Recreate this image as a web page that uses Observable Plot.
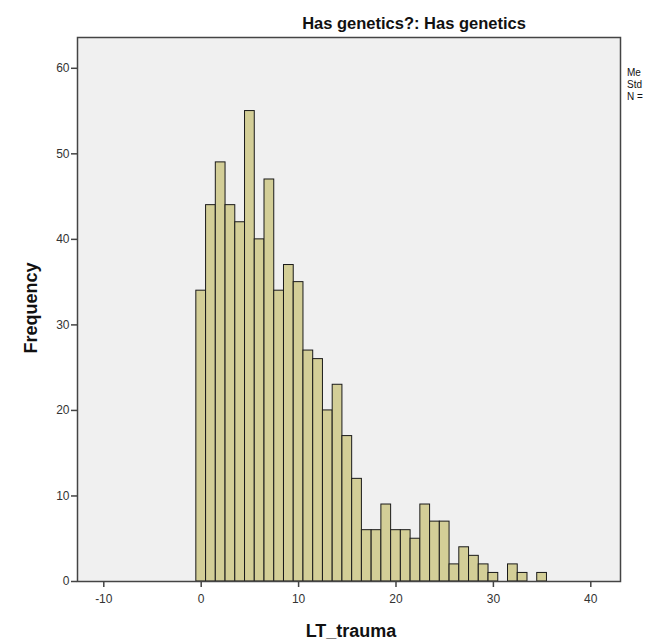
<!DOCTYPE html>
<html>
<head>
<meta charset="utf-8">
<script src="https://cdn.jsdelivr.net/npm/d3@7"></script>
<script src="https://cdn.jsdelivr.net/npm/@observablehq/plot@0.6"></script>
<style>
  html, body { margin: 0; padding: 0; background: #ffffff; }
  #chart { position: relative; width: 648px; height: 641px; }
  svg { font-family: Arial, "Liberation Sans", sans-serif; }
</style>
</head>
<body>
<div id="chart"></div>
<script>
// LT_trauma values (bin centres) and frequencies
const values = [0,1,2,3,4,5,6,7,8,9,10,11,12,13,14,15,16,17,18,19,20,21,22,23,24,25,26,27,28,29,30,31,32,33,34,35];
const counts = [34,44,49,44,42,55,40,47,34,37,35,27,26,20,23,17,12,6,6,9,6,6,5,9,7,7,2,4,3,2,1,0,2,1,0,1];
const xTicks = [-10,0,10,20,30,40];
const yTicks = [0,10,20,30,40,50,60];
const title = "Has genetics?: Has genetics";
const xLabel = "LT_trauma";
const yLabel = "Frequency";
const statLabels = ["Me", "Std", "N ="];

const bins = values.map((v, i) => ({x1: v - 0.5, x2: v + 0.5, count: counts[i]})).filter(d => d.count > 0);

const W = 648, H = 641;
const chart = Plot.plot({
  width: W,
  height: H,
  marginLeft: 77,
  marginRight: 28,
  marginTop: 37,
  marginBottom: 60,
  style: {fontFamily: "Arial, 'Liberation Sans', sans-serif", fontSize: "12px", background: "#ffffff", color: "#333"},
  x: {domain: [-12.7, 43.05]},
  y: {domain: [0, 63.6]},
  marks: [
    Plot.frame({fill: "#f0f0f0", stroke: null}),
    Plot.rectY(bins, {x1: "x1", x2: "x2", y: "count", fill: "#d3ce97", stroke: "#1a1a1a", strokeWidth: 1}),
    Plot.frame({stroke: "#444", strokeWidth: 1.5}),
    Plot.axisY({ticks: yTicks, tickSize: 6, tickPadding: 2, label: null, tickFormat: d => String(d), stroke: "#444", strokeWidth: 1.5, fill: "#333", fontSize: 12}),
    Plot.axisX({ticks: xTicks, tickSize: 6, tickPadding: 7, label: null, tickFormat: d => String(d), stroke: "#444", strokeWidth: 1.5, fill: "#333", fontSize: 12})
  ]
});
document.getElementById("chart").appendChild(chart);

const svg = d3.select(chart);
svg.append("text")
  .attr("x", 414).attr("y", 29)
  .attr("text-anchor", "middle")
  .attr("font-size", 16.5).attr("font-weight", "bold").attr("fill", "#111")
  .text(title);
svg.append("text")
  .attr("x", 351).attr("y", 637)
  .attr("text-anchor", "middle")
  .attr("font-size", 18).attr("font-weight", "bold").attr("fill", "#111")
  .text(xLabel);
svg.append("text")
  .attr("transform", "translate(37,308) rotate(-90)")
  .attr("text-anchor", "middle")
  .attr("font-size", 18).attr("font-weight", "bold").attr("fill", "#111")
  .text(yLabel);
statLabels.forEach((s, i) => {
  svg.append("text")
    .attr("x", 627).attr("y", 76 + i * 12)
    .attr("text-anchor", "start")
    .attr("font-size", 10).attr("fill", "#111")
    .text(s);
});
</script>
</body>
</html>
